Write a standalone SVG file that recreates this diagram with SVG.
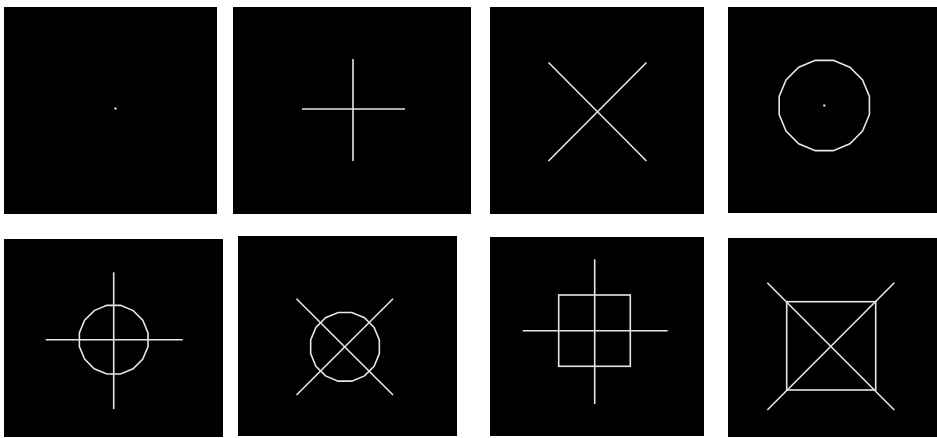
<svg xmlns="http://www.w3.org/2000/svg" width="937" height="438" viewBox="0 0 937 438">
<style>
.bg{fill:#000}
.ln{stroke:#e6e6e6;stroke-width:1.6;fill:none}
.dot{fill:#fff}
</style>
<defs>
<polygon id="c35" points="34.33,6.83 29.10,19.44 19.44,29.10 6.83,34.33 -6.83,34.33 -19.44,29.10 -29.10,19.44 -34.33,6.83 -34.33,-6.83 -29.10,-19.44 -19.44,-29.10 -6.83,-34.33 6.83,-34.33 19.44,-29.10 29.10,-19.44 34.33,-6.83"/>
<polygon id="c46" points="45.12,8.97 38.25,25.56 25.56,38.25 8.97,45.12 -8.97,45.12 -25.56,38.25 -38.25,25.56 -45.12,8.97 -45.12,-8.97 -38.25,-25.56 -25.56,-38.25 -8.97,-45.12 8.97,-45.12 25.56,-38.25 38.25,-25.56 45.12,-8.97"/>
</defs>
<rect width="937" height="438" fill="#fff"/>
<g id="panel1">
<rect class="bg" x="4" y="7" width="213" height="207"/>
<rect class="dot" x="114.5" y="107.5" width="2" height="2"/>
</g>
<g id="panel2">
<rect class="bg" x="233" y="7" width="238" height="207"/>
<line class="ln" x1="353" y1="59" x2="353" y2="161"/>
<line class="ln" x1="302" y1="109" x2="405" y2="109"/>
</g>
<g id="panel3">
<rect class="bg" x="490" y="7" width="214" height="207"/>
<line class="ln" x1="548.5" y1="62.5" x2="646.5" y2="161"/>
<line class="ln" x1="646.5" y1="62.5" x2="548.5" y2="161"/>
</g>
<g id="panel4">
<rect class="bg" x="728" y="7" width="209" height="206"/>
<use href="#c46" class="ln" x="824.3" y="105.5"/>
<rect class="dot" x="823.3" y="104.5" width="2" height="2"/>
</g>
<g id="panel5">
<rect class="bg" x="4" y="239" width="219" height="198"/>
<line class="ln" x1="113.7" y1="272.3" x2="113.7" y2="409"/>
<line class="ln" x1="45.7" y1="339.7" x2="182.7" y2="339.7"/>
<use href="#c35" class="ln" x="113.7" y="339.7"/>
</g>
<g id="panel6">
<rect class="bg" x="238" y="236" width="219" height="200"/>
<line class="ln" x1="296.5" y1="298.7" x2="393" y2="395"/>
<line class="ln" x1="393" y1="298.7" x2="296.5" y2="395"/>
<use href="#c35" class="ln" x="345" y="346.8"/>
</g>
<g id="panel7">
<rect class="bg" x="490" y="237" width="214" height="199"/>
<line class="ln" x1="594.7" y1="259.3" x2="594.7" y2="404"/>
<line class="ln" x1="522.7" y1="330.7" x2="667.7" y2="330.7"/>
<rect class="ln" x="558.7" y="295" width="71.6" height="71.3"/>
</g>
<g id="panel8">
<rect class="bg" x="728" y="238" width="209" height="199"/>
<rect class="ln" x="786.7" y="301.7" width="89" height="88.3"/>
<line class="ln" x1="767.3" y1="282.7" x2="894.3" y2="410"/>
<line class="ln" x1="894.3" y1="282.7" x2="767.3" y2="410"/>
</g>
</svg>
